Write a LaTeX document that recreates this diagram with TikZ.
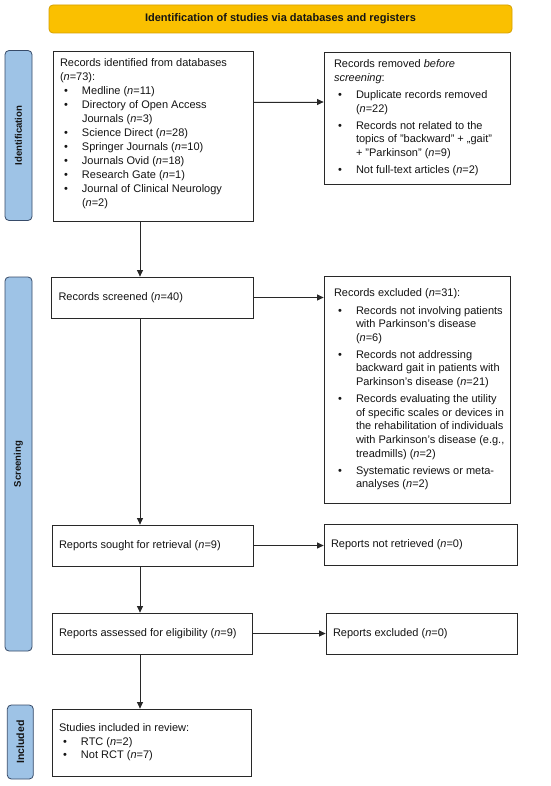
\documentclass[tikz,border=0pt]{standalone}
\usepackage{fontspec}
\setmainfont{Liberation Sans}
\usetikzlibrary{arrows.meta}
\definecolor{bannerfill}{RGB}{250,192,0}
\definecolor{bannerdraw}{RGB}{214,160,0}
\definecolor{sidefill}{RGB}{158,195,230}
\definecolor{sidedraw}{RGB}{55,75,105}
\definecolor{txt}{RGB}{20,20,20}
\definecolor{boxdraw}{RGB}{40,40,40}
\newcommand{\nl}{\hfil\break}
\newcommand{\normspc}{\spaceskip=0pt\xspaceskip=0pt\relax}
\newcommand{\bul}[1]{\par\hangindent=22pt\hangafter=1\noindent\makebox[22pt][l]{\hspace{4pt}\textbullet}#1}
\tikzset{
  box/.style={draw=boxdraw, line width=0.8pt, fill=white, inner xsep=0pt, inner ysep=3pt,
    align=left, font=\fontsize{11}{13.6}\selectfont, text=txt},
  side/.style={draw=sidedraw, fill=sidefill, rounded corners=4pt, line width=0.8pt,
    rotate=90, text=txt, font=\bfseries\fontsize{9.6}{11}\selectfont, inner sep=0pt},
  banner/.style={draw=bannerdraw, fill=bannerfill, rounded corners=4pt, line width=0.8pt,
    text=txt, font=\bfseries\fontsize{11}{13}\selectfont, inner sep=0pt},
  arr/.style={-{Triangle[length=6.5pt,width=6pt]}, line width=0.8pt, draw=boxdraw, fill=boxdraw}
}
\begin{document}
\begin{tikzpicture}[x=1pt,y=-1pt]
\useasboundingbox[fill=white] (0,0) rectangle (550,786);

\node[banner, minimum width=463pt, minimum height=28pt] (banner) at (280.5,19)
  {Identification of studies via databases and registers};

\node[side, minimum width=170pt, minimum height=27pt] (sideid) at (18.5,135.5) {Identification};
\node[side, minimum width=374pt, minimum height=27pt] (sidescr) at (18.5,464) {Screening};
\node[side, minimum width=74pt, minimum height=26pt, font=\bfseries\fontsize{10.5}{13}\selectfont] (sideinc) at (20.3,742) {Included};

\node[box, minimum width=200pt, minimum height=170pt, text width=186pt,
      font=\fontsize{11}{14}\selectfont] (ident) at (153,136)
  {\normspc Records identified from databases\nl (\textit{n}=73):
   \bul{Medline (\textit{n}=11)}
   \bul{Directory of Open Access\nl Journals (\textit{n}=3)}
   \bul{Science Direct (\textit{n}=28)}
   \bul{Springer Journals (\textit{n}=10)}
   \bul{Journals Ovid (\textit{n}=18)}
   \bul{Research Gate (\textit{n}=1)}
   \bul{Journal of Clinical Neurology\nl (\textit{n}=2)}\par\vspace{5pt}};

\node[box, minimum width=186pt, minimum height=132pt, text width=180pt] (removed) at (417,118)
  {\normspc\setlength{\parskip}{3.5pt}\setlength{\leftskip}{7pt}Records removed \textit{before}\nl \textit{screening}:
   \bul{Duplicate records removed\nl (\textit{n}=22)}
   \bul{Records not related to the\nl topics of "backward" + „gait"\nl + "Parkinson" (\textit{n}=9)}
   \bul{Not full-text articles (\textit{n}=2)}\par};

\node[box, minimum width=202pt, minimum height=41pt, text width=188pt] (screened) at (152.5,297.5)
  {\normspc Records screened (\textit{n}=40)};

\node[box, minimum width=186pt, minimum height=227pt, text width=180pt] (excluded) at (417,389.5)
  {\normspc\setlength{\parskip}{3.5pt}\setlength{\leftskip}{7pt}Records excluded (\textit{n}=31):
   \bul{Records not involving patients\nl with Parkinson's disease\nl (\textit{n}=6)}
   \bul{Records not addressing\nl backward gait in patients with\nl Parkinson's disease (\textit{n}=21)}
   \bul{Records evaluating the utility\nl of specific scales or devices in\nl the rehabilitation of individuals\nl with Parkinson's disease (e.g.,\nl treadmills) (\textit{n}=2)}
   \bul{Systematic reviews or meta-\nl analyses (\textit{n}=2)}\par};

\node[box, minimum width=201pt, minimum height=41pt, text width=187pt] (sought) at (152.5,545.5)
  {\normspc Reports sought for retrieval (\textit{n}=9)};

\node[box, minimum width=193pt, minimum height=41pt, text width=179pt] (notretr) at (420.5,544.5)
  {\normspc Reports not retrieved (\textit{n}=0)};

\node[box, minimum width=200pt, minimum height=41pt, text width=186pt] (assessed) at (152,633.5)
  {\normspc Reports assessed for eligibility (\textit{n}=9)};

\node[box, minimum width=191pt, minimum height=41pt, text width=177pt] (repexcl) at (421.5,633.5)
  {\normspc Reports excluded (\textit{n}=0)};

\node[box, minimum width=199pt, minimum height=67pt, text width=185pt] (included) at (151.5,742.5)
  {\normspc Studies included in review:
   \bul{RTC (\textit{n}=2)}
   \bul{Not RCT (\textit{n}=7)}\par};

\coordinate (vx) at (140,0);
\coordinate (h1) at (0,102);

\draw[arr] (ident.south -| vx) -- (screened.north -| vx);
\draw[arr] (screened.south -| vx) -- (sought.north -| vx);
\draw[arr] (sought.south -| vx) -- (assessed.north -| vx);
\draw[arr] (assessed.south -| vx) -- (included.north -| vx);

\draw[arr] (ident.east |- h1) -- (removed.west |- h1);
\draw[arr] (screened.east) -- (screened.east -| excluded.west);
\draw[arr] (sought.east) -- (sought.east -| notretr.west);
\draw[arr] (assessed.east) -- (assessed.east -| repexcl.west);
\end{tikzpicture}
\end{document}
